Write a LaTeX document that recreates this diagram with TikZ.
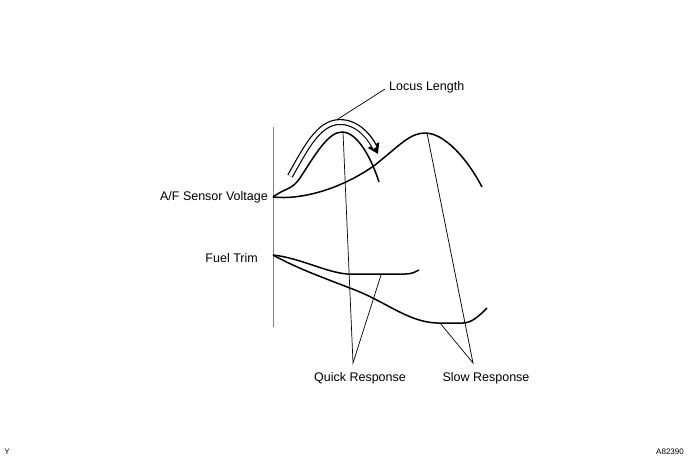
\documentclass[tikz,border=0pt]{standalone}
\usepackage{fontspec}
\setmainfont{Liberation Sans}
\usetikzlibrary{arrows.meta}
\begin{document}
\begin{tikzpicture}[x=1pt,y=-1pt,
  curve/.style={line width=1.5pt},
  lead/.style={line width=0.7pt},
  lbl/.style={font=\fontsize{12.5}{14}\selectfont,inner sep=0pt}]
\useasboundingbox (0,0) rectangle (690,459);
\draw[gray,line width=1pt] (273,127) -- (273,327);
% A/F curves
\draw[curve] (273,197) .. controls (285,188) and (292,190) .. (300,178)
  .. controls (315,155) and (328,132) .. (342,132)
  .. controls (358,132) and (372,160) .. (379,182);
\draw[curve] (273,197) .. controls (300,200) and (340,190) .. (375,165)
  .. controls (400,145) and (410,133) .. (425,133)
  .. controls (445,133) and (468,160) .. (482,187);
% hollow arrow
\draw[line width=6pt,-{Triangle[length=10pt,width=12pt]}] (290,176) .. controls (305,150) and (318,122) .. (340,122)
  .. controls (358,122) and (370,138) .. (378,154);
\draw[line width=3.6pt,white,shorten >=7pt] (290,176) .. controls (305,150) and (318,122) .. (340,122)
  .. controls (358,122) and (370,138) .. (378,154);
% fuel trim
\draw[curve] (273,255) .. controls (300,258) and (325,272) .. (347,274) -- (405,274) .. controls (412,274) and (415,272) .. (419,270);
\draw[curve] (273,255) .. controls (300,270) and (330,280) .. (360,292)
  .. controls (390,305) and (410,322) .. (437,323) -- (463,323) .. controls (472,323) and (480,315) .. (487,308);
% labels
\node[lbl,anchor=west] (loc) at (389,87) {Locus Length};
\coordinate (lp) at (338,119);
\draw[lead] (lp) -- (385,89);
\node[lbl,anchor=east] (af) at (268,197) {A/F Sensor Voltage};
\node[lbl,anchor=east] (ft) at (258,258) {Fuel Trim};
\node[lbl] (qr) at (360,378) {Quick Response};
\node[lbl] (sr) at (486,378) {Slow Response};
\coordinate (q) at (353,363);
\coordinate (s) at (473,363);
\draw[lead] (343,132) -- (q) -- (381,275);
\draw[lead] (427,133) -- (s) -- (440,323);
\node[lbl,font=\fontsize{8}{9}\selectfont] (y) at (7,452) {Y};
\node[lbl,anchor=east,font=\fontsize{8}{9}\selectfont] (id) at (684,452) {A82390};
\end{tikzpicture}
\end{document}
